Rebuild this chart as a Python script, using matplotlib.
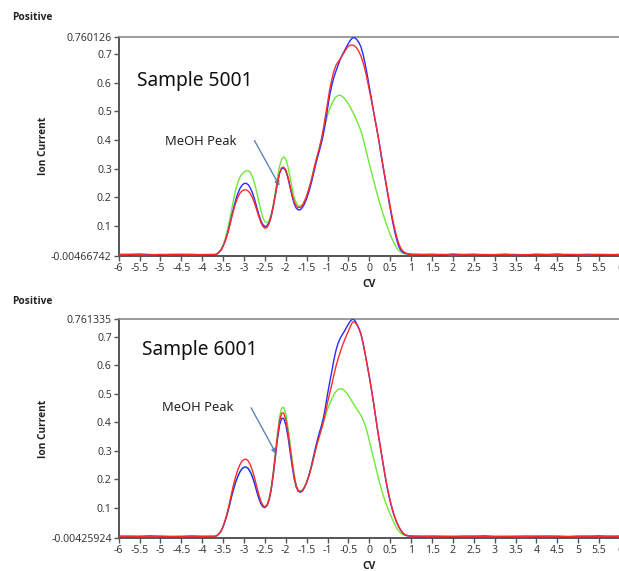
import matplotlib
matplotlib.use("Agg")
import matplotlib.pyplot as plt

# ---------------- data ----------------
CV_LEFT = [-6.0, -5.75, -5.5, -5.25, -5.0, -4.75, -4.5, -4.25, -4.0, -3.75]
CV_PEAK = [round(-3.7 + 0.05 * i, 2) for i in range(95)]          # -3.70 ... 1.00
CV_RIGHT = [1.25, 1.5, 1.75, 2.0, 2.25, 2.5, 2.75, 3.0, 3.25, 3.5,
            3.75, 4.0, 4.25, 4.5, 4.75, 5.0, 5.25, 5.5, 5.75, 6.0]
CV = CV_LEFT + CV_PEAK + CV_RIGHT

blue_5001 = [0.001, 0.000, 0.002, 0.000, -0.001, 0.001, 0.000, 0.001, -0.001, 0.000,
             0.000, 0.002, 0.008, 0.016, 0.030, 0.048, 0.072, 0.100, 0.132, 0.162,
             0.190, 0.213, 0.230, 0.242, 0.248, 0.249, 0.244, 0.233, 0.216, 0.194,
             0.168, 0.142, 0.120, 0.105, 0.098, 0.100, 0.112, 0.135, 0.168, 0.208,
             0.250, 0.283, 0.300, 0.302, 0.292, 0.268, 0.236, 0.204, 0.178, 0.162,
             0.156, 0.157, 0.165, 0.178, 0.196, 0.218, 0.244, 0.274, 0.305, 0.334,
             0.360, 0.388, 0.420, 0.462, 0.510, 0.555, 0.590, 0.618, 0.640, 0.660,
             0.680, 0.696, 0.710, 0.724, 0.737, 0.749, 0.756, 0.757, 0.750, 0.740,
             0.724, 0.698, 0.665, 0.627, 0.585, 0.543, 0.500, 0.460, 0.420, 0.376,
             0.330, 0.287, 0.245, 0.202, 0.160, 0.120, 0.085, 0.055, 0.030, 0.016,
             0.009, 0.005, 0.003, 0.002, 0.001,
             0.000, 0.001, -0.001, 0.002, 0.000, 0.001, -0.001, 0.000, 0.001, 0.000,
             -0.001, 0.001, 0.000, 0.002, -0.001, 0.000, 0.001, 0.000, -0.001, 0.001]
red_5001 = [0.000, 0.001, 0.000, -0.001, 0.001, 0.000, 0.001, 0.000, 0.000, 0.001,
            0.000, 0.002, 0.008, 0.016, 0.030, 0.047, 0.070, 0.097, 0.127, 0.155,
            0.180, 0.200, 0.214, 0.222, 0.226, 0.226, 0.222, 0.213, 0.199, 0.180,
            0.158, 0.134, 0.114, 0.099, 0.092, 0.095, 0.108, 0.132, 0.167, 0.208,
            0.250, 0.285, 0.303, 0.305, 0.296, 0.273, 0.242, 0.210, 0.185, 0.170,
            0.164, 0.165, 0.172, 0.186, 0.205, 0.228, 0.254, 0.284, 0.315, 0.343,
            0.370, 0.402, 0.440, 0.485, 0.530, 0.575, 0.610, 0.640, 0.660, 0.672,
            0.682, 0.694, 0.706, 0.718, 0.727, 0.731, 0.731, 0.728, 0.720, 0.708,
            0.692, 0.670, 0.643, 0.610, 0.573, 0.537, 0.500, 0.461, 0.422, 0.380,
            0.336, 0.292, 0.250, 0.208, 0.168, 0.130, 0.095, 0.065, 0.040, 0.023,
            0.013, 0.007, 0.004, 0.002, 0.001,
            0.001, 0.000, 0.001, -0.001, 0.000, 0.001, 0.000, 0.000, 0.001, -0.001,
            0.000, 0.001, 0.000, 0.000, 0.001, 0.000, -0.001, 0.001, 0.000, 0.000]
green_5001 = [0.000, 0.001, 0.000, 0.001, 0.000, 0.000, 0.001, 0.000, 0.001, 0.000,
              0.001, 0.003, 0.009, 0.018, 0.034, 0.056, 0.085, 0.118, 0.155, 0.192,
              0.226, 0.252, 0.270, 0.281, 0.288, 0.292, 0.293, 0.287, 0.272, 0.250,
              0.221, 0.188, 0.156, 0.130, 0.115, 0.111, 0.119, 0.140, 0.175, 0.220,
              0.268, 0.308, 0.333, 0.341, 0.333, 0.308, 0.272, 0.233, 0.200, 0.180,
              0.170, 0.169, 0.175, 0.188, 0.206, 0.229, 0.255, 0.285, 0.315, 0.343,
              0.370, 0.400, 0.430, 0.460, 0.487, 0.508, 0.526, 0.540, 0.550, 0.555,
              0.556, 0.552, 0.545, 0.536, 0.525, 0.512, 0.498, 0.483, 0.467, 0.450,
              0.430, 0.405, 0.376, 0.346, 0.316, 0.288, 0.260, 0.232, 0.205, 0.179,
              0.155, 0.132, 0.110, 0.089, 0.070, 0.053, 0.038, 0.025, 0.015, 0.009,
              0.005, 0.003, 0.002, 0.001, 0.001,
              0.000, 0.001, 0.000, 0.000, 0.001, 0.000, 0.001, 0.000, 0.000, 0.001,
              0.000, 0.000, 0.001, 0.000, 0.000, 0.001, 0.000, 0.000, 0.001, 0.000]

blue_6001 = [0.001, 0.000, 0.000, 0.002, 0.000, -0.001, 0.000, 0.001, 0.000, 0.000,
             0.000, 0.003, 0.009, 0.019, 0.035, 0.055, 0.080, 0.108, 0.139, 0.166,
             0.190, 0.210, 0.226, 0.237, 0.243, 0.243, 0.238, 0.226, 0.209, 0.186,
             0.160, 0.135, 0.116, 0.104, 0.101, 0.108, 0.128, 0.163, 0.215, 0.278,
             0.340, 0.390, 0.414, 0.414, 0.392, 0.352, 0.300, 0.248, 0.203, 0.173,
             0.158, 0.155, 0.160, 0.172, 0.190, 0.213, 0.240, 0.272, 0.305, 0.335,
             0.362, 0.387, 0.415, 0.455, 0.500, 0.540, 0.578, 0.618, 0.652, 0.677,
             0.694, 0.707, 0.719, 0.732, 0.745, 0.756, 0.762, 0.758, 0.745, 0.730,
             0.710, 0.678, 0.640, 0.600, 0.560, 0.515, 0.470, 0.420, 0.370, 0.325,
             0.280, 0.235, 0.192, 0.155, 0.122, 0.094, 0.070, 0.051, 0.035, 0.022,
             0.012, 0.006, 0.003, 0.002, 0.001,
             0.000, 0.001, 0.000, -0.001, 0.001, 0.000, 0.002, 0.000, -0.001, 0.000,
             0.001, 0.000, 0.001, 0.000, -0.001, 0.001, 0.000, 0.002, 0.000, 0.001]
red_6001 = [0.000, 0.001, 0.000, 0.000, 0.001, 0.000, 0.000, 0.001, 0.000, 0.001,
            0.000, 0.003, 0.009, 0.019, 0.036, 0.058, 0.085, 0.116, 0.150, 0.182,
            0.210, 0.233, 0.251, 0.264, 0.270, 0.271, 0.265, 0.251, 0.232, 0.207,
            0.178, 0.149, 0.125, 0.109, 0.103, 0.109, 0.129, 0.166, 0.220, 0.285,
            0.350, 0.405, 0.432, 0.433, 0.410, 0.368, 0.315, 0.260, 0.210, 0.176,
            0.160, 0.157, 0.162, 0.174, 0.190, 0.211, 0.236, 0.265, 0.296, 0.325,
            0.350, 0.375, 0.402, 0.435, 0.470, 0.502, 0.532, 0.565, 0.596, 0.622,
            0.645, 0.667, 0.686, 0.704, 0.720, 0.738, 0.752, 0.752, 0.742, 0.728,
            0.708, 0.677, 0.640, 0.600, 0.560, 0.515, 0.470, 0.420, 0.372, 0.327,
            0.282, 0.238, 0.195, 0.158, 0.125, 0.097, 0.072, 0.052, 0.036, 0.023,
            0.013, 0.007, 0.004, 0.002, 0.001,
            0.001, 0.000, 0.000, 0.001, 0.000, 0.001, 0.000, 0.000, 0.001, 0.000,
            0.000, 0.001, 0.000, 0.001, 0.000, 0.000, 0.001, 0.000, 0.001, 0.000]
green_6001 = [0.000, 0.000, 0.001, 0.000, 0.000, 0.001, 0.000, 0.000, 0.001, 0.000,
              0.001, 0.003, 0.009, 0.019, 0.035, 0.055, 0.080, 0.108, 0.139, 0.166,
              0.190, 0.210, 0.226, 0.237, 0.243, 0.244, 0.240, 0.229, 0.213, 0.191,
              0.166, 0.141, 0.121, 0.108, 0.104, 0.112, 0.134, 0.172, 0.228, 0.295,
              0.362, 0.420, 0.450, 0.453, 0.430, 0.385, 0.330, 0.270, 0.218, 0.181,
              0.163, 0.159, 0.163, 0.174, 0.190, 0.211, 0.236, 0.265, 0.296, 0.325,
              0.350, 0.375, 0.400, 0.424, 0.446, 0.465, 0.482, 0.497, 0.508, 0.515,
              0.518, 0.517, 0.512, 0.504, 0.494, 0.482, 0.470, 0.458, 0.447, 0.436,
              0.424, 0.409, 0.390, 0.365, 0.335, 0.305, 0.275, 0.245, 0.215, 0.187,
              0.160, 0.136, 0.115, 0.095, 0.078, 0.061, 0.045, 0.031, 0.020, 0.012,
              0.007, 0.004, 0.002, 0.001, 0.001,
              0.000, 0.000, 0.001, 0.000, 0.000, 0.001, 0.000, 0.000, 0.000, 0.001,
              0.000, 0.000, 0.001, 0.000, 0.000, 0.000, 0.001, 0.000, 0.000, 0.001]

panels = [
    dict(title="Sample 5001", ymin=-0.00466742, ymax=0.760126,
         ymin_lbl="-0.00466742", ymax_lbl="0.760126",
         blue=blue_5001, red=red_5001, green=green_5001,
         title_xy=(-5.55, 0.588), meoh_xy=(-4.9, 0.381),
         arrow_from=(-2.75, 0.398), arrow_to=(-2.15, 0.24)),
    dict(title="Sample 6001", ymin=-0.00425924, ymax=0.761335,
         ymin_lbl="-0.00425924", ymax_lbl="0.761335",
         blue=blue_6001, red=red_6001, green=green_6001,
         title_xy=(-5.45, 0.635), meoh_xy=(-4.96, 0.439),
         arrow_from=(-2.83, 0.451), arrow_to=(-2.23, 0.29)),
]

x_ticks = [-6 + 0.5 * i for i in range(25)]
y_ticks_mid = [0.1, 0.2, 0.3, 0.4, 0.5, 0.6, 0.7]

# ---------------- figure ----------------
W, H = 619, 571
fig = plt.figure(figsize=(W / 100, H / 100), dpi=100)
fig.patch.set_facecolor("white")

TXT = "#3a3a3a"
FONT = "Noto Sans"
BOLD = "Open Sans"

def fx(px):
    return px / W

def fy(py):
    return 1 - py / H

axes_px = [(118.7, 620.0, 36.7, 256.0), (118.7, 620.0, 319.3, 537.7)]
pos_txt_py = [18, 301]

for p, (l, r, t, b), ppy in zip(panels, axes_px, pos_txt_py):
    ax = fig.add_axes([fx(l), fy(b), fx(r - l), (b - t) / H])
    ax.plot(CV, p["green"], color="#6ee83a", lw=1.0, zorder=2)
    ax.plot(CV, p["blue"], color="#2a2aff", lw=1.0, zorder=3)
    ax.plot(CV, p["red"], color="#ff2a2a", lw=1.0, zorder=4)
    ax.set_xlim(-6, 6)
    ax.set_ylim(p["ymin"], p["ymax"])
    ax.set_xticks(x_ticks)
    ax.set_xticklabels([("%g" % v) for v in x_ticks])
    yt = [p["ymin"]] + y_ticks_mid + [p["ymax"]]
    ax.set_yticks(yt)
    ax.set_yticklabels([p["ymin_lbl"]] + ["%g" % v for v in y_ticks_mid] + [p["ymax_lbl"]])
    ax.tick_params(axis="both", direction="out", length=3.5, width=1.0, color="#555555",
                   labelsize=7.6, labelcolor=TXT, pad=1.5)
    for lab in ax.get_xticklabels() + ax.get_yticklabels():
        lab.set_fontfamily(FONT)
    for s in ["left", "bottom"]:
        ax.spines[s].set_color("#555555")
        ax.spines[s].set_linewidth(1.4)
    ax.spines["top"].set_color("#8a8a8a")
    ax.spines["top"].set_linewidth(1.2)
    ax.spines["right"].set_visible(False)
    ax.set_xlabel("CV", fontsize=7.5, fontweight="bold", color="#222222", labelpad=3.5, family=BOLD)
    ax.text(p["title_xy"][0], p["title_xy"][1], p["title"], fontsize=13.8, color="#111111",
            family=FONT, va="baseline", ha="left")
    ax.text(p["meoh_xy"][0], p["meoh_xy"][1], "MeOH Peak", fontsize=9.3, color="#222222",
            family=FONT, va="baseline", ha="left")
    ax.annotate("", xy=p["arrow_to"], xytext=p["arrow_from"],
                arrowprops=dict(arrowstyle="-|>", color="#5b86b3", lw=1.0,
                                mutation_scale=7, shrinkA=0, shrinkB=0))
    fig.text(fx(12), fy(ppy), "Positive", fontsize=7.3, fontweight="bold", color="#222222",
             family=BOLD, va="center", ha="left")
    fig.text(fx(43), fy((t + b) / 2), "Ion Current", fontsize=7.3, fontweight="bold",
             color="#222222", family=BOLD, rotation=90, va="center", ha="center")

fig.savefig("out.png", dpi=100, facecolor="white")
